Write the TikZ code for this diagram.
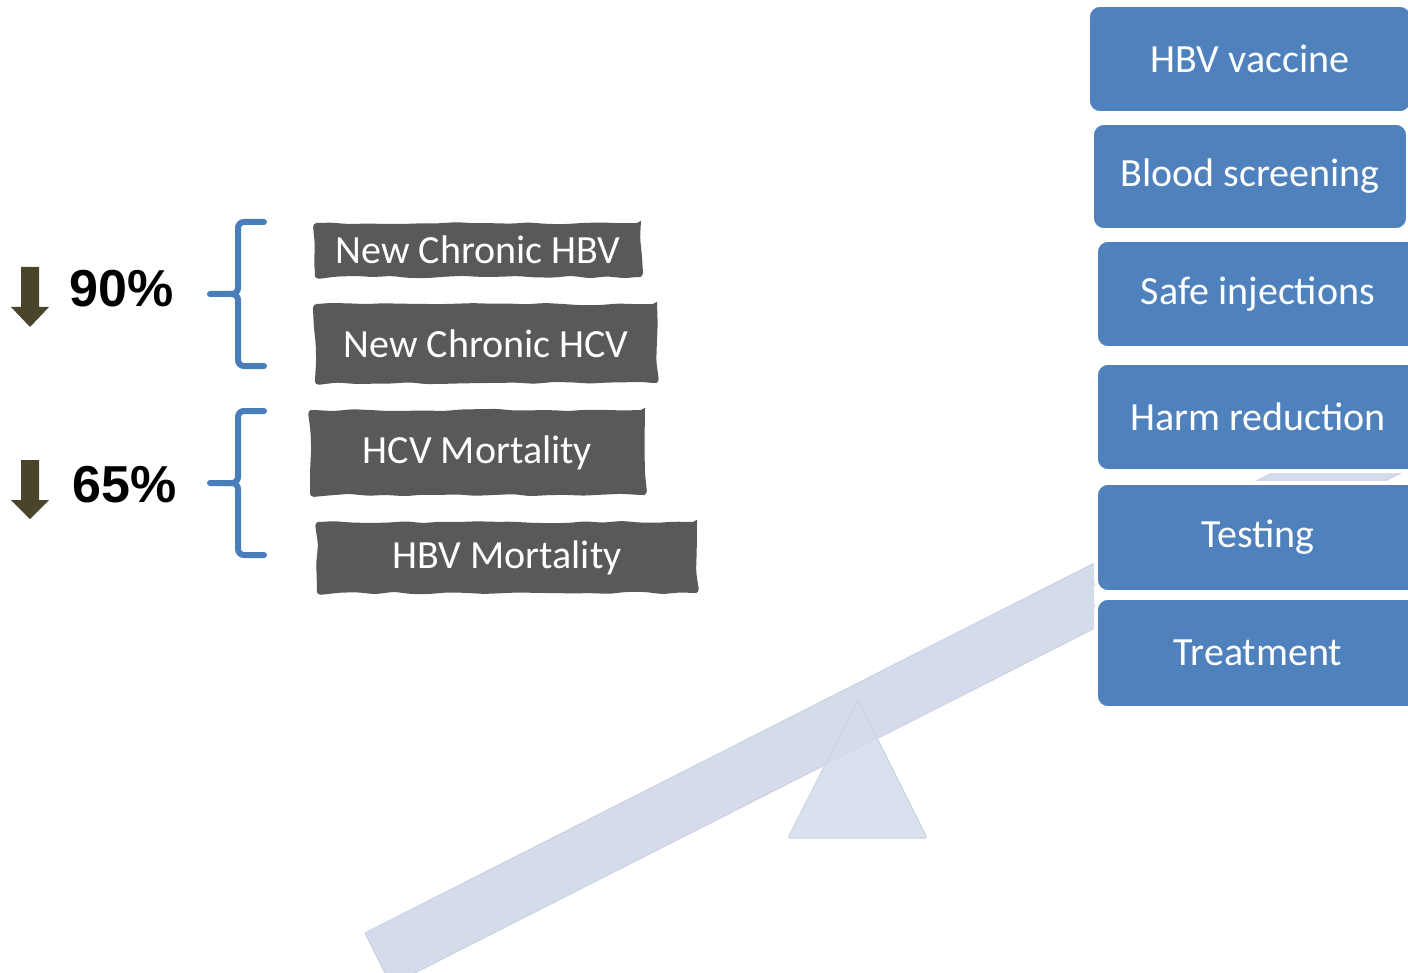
\documentclass[tikz,border=0pt]{standalone}
\usepackage{fontspec}
\setmainfont{Carlito}
\newfontfamily\pctfont{Liberation Sans}
\usetikzlibrary{decorations.pathmorphing}
\definecolor{boxblue}{HTML}{4F81BD}
\definecolor{bracecol}{HTML}{4A7EBB}
\definecolor{slate}{HTML}{595959}
\definecolor{olivedark}{HTML}{4A452A}
\definecolor{beamfill}{HTML}{D4DBEA}
\definecolor{beamedge}{HTML}{CCD4E6}
\pgfmathsetseed{7}
\begin{document}
\begin{tikzpicture}[x=0.5pt,y=-0.5pt,
  bluebox/.style={draw=white, line width=1.8pt, fill=boxblue, rounded corners=6pt,
    text=white, font=\fontsize{20}{24}\selectfont, inner sep=0pt},
  graybox/.style={fill=slate, text=white, font=\fontsize{20}{24}\selectfont, inner sep=0pt,
    decorate, decoration={random steps, segment length=9pt, amplitude=0.6pt}, rounded corners=2pt},
  pct/.style={font=\pctfont\bfseries\fontsize{26}{30}\selectfont, inner sep=0pt},
  bracket/.style={draw=bracecol, line width=3pt, line cap=round, rounded corners=3pt},
  downarrow/.style={fill=olivedark},
  seesaw/.style={fill=beamfill, draw=beamedge, line width=0.6pt, line join=round}
]
\useasboundingbox (0,0) rectangle (1408,973);

% seesaw beam and fulcrum
\path[seesaw] (365,933) -- (1420,398) -- (1446,450) -- (391,985) -- cycle;
\path[seesaw, fill opacity=0.85, rounded corners=1pt] (858,700) -- (927,838) -- (788,838) -- cycle;

% white strip behind the lower pair of boxes
\fill[white] (1094,586) rectangle (1420,604);

% interventions on the raised end
\node[bluebox, minimum width=162pt, minimum height=54pt] (vac) at (1250,59) {HBV vaccine};
\node[bluebox, minimum width=158pt, minimum height=53.5pt] (blood) at (1250,176.5) {Blood screening};
\node[bluebox, minimum width=162pt, minimum height=54pt] (inj) at (1258,294) {Safe injections};
\node[bluebox, minimum width=162pt, minimum height=54pt] (harm) at (1258,417) {Harm reduction};
\node[bluebox, minimum width=162pt, minimum height=54.5pt] (test) at (1258,537.5) {Testing};
\node[bluebox, minimum width=162pt, minimum height=55pt] (treat) at (1258,653) {Treatment};

% outcomes
\node[graybox, minimum width=163pt, minimum height=27pt] (hbvnew) at (478,250) {New Chronic HBV};
\node[graybox, minimum width=171pt, minimum height=39.5pt] (hcvnew) at (486,343.5) {New Chronic HCV};
\node[graybox, minimum width=167.5pt, minimum height=42.5pt] (hcvmort) at (477.5,452.5) {HCV Mortality};
\node[graybox, minimum width=190pt, minimum height=35.5pt] (hbvmort) at (507,557.5) {HBV Mortality};

% reduction targets
\path[downarrow] (21,267) -- (39,267) -- (39,307) -- (49,307) -- (30,327) -- (11,307) -- (21,307) -- cycle;
\node[pct] (p90) at (122,289) {90\%};
\path[downarrow] (21,460) -- (39,460) -- (39,500) -- (49,500) -- (30,519) -- (11,500) -- (21,500) -- cycle;
\node[pct] (p65) at (125,485) {65\%};

% braces grouping the outcomes
\draw[bracket] (264,222) -- (238,222) -- (238,294) -- (210,294);
\draw[bracket] (264,366) -- (238,366) -- (238,294) -- (226,294);
\draw[bracket] (264,411) -- (238,411) -- (238,483) -- (210,483);
\draw[bracket] (264,555) -- (238,555) -- (238,483) -- (226,483);
\end{tikzpicture}
\end{document}
